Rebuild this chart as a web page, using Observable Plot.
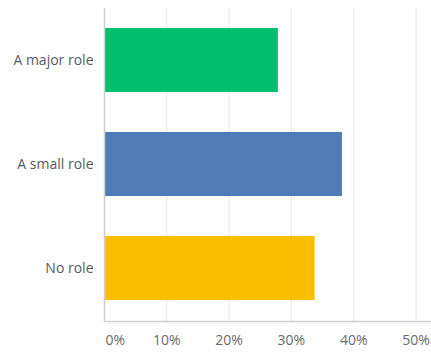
<!DOCTYPE html>
<html>
<head>
<meta charset="utf-8">
<script src="https://cdn.jsdelivr.net/npm/d3@7"></script>
<script src="https://cdn.jsdelivr.net/npm/@observablehq/plot@0.6"></script>
<style>
  html, body { margin: 0; padding: 0; background: #fff; }
  #chart svg { display: block; }
</style>
</head>
<body>
<div id="chart"></div>
<script>
const categories = ["A major role", "A small role", "No role"];
const values = [27.9, 38.2, 33.8];
const colors = ["#00BF6F", "#507CB6", "#F9BE00"];
const xTicks = [0, 10, 20, 30, 40, 50];

const data = categories.map((c, i) => ({category: c, value: values[i], color: colors[i]}));

const chart = Plot.plot({
  width: 431,
  height: 352,
  marginLeft: 104,
  marginRight: 0,
  marginTop: 8,
  marginBottom: 31,
  style: {fontFamily: "'Open Sans', sans-serif", fontSize: "14px", color: "#6b6b6b", background: "#fff"},
  x: {domain: [0, 50], range: [104, 415.5], axis: null},
  y: {domain: categories, paddingInner: 0.38, paddingOuter: 0.19, axis: null},
  marks: [
    Plot.gridX(xTicks.filter(d => d > 0), {stroke: "#e6e6e6", strokeOpacity: 1, strokeWidth: 1}),
    Plot.barX(data, {y: "category", x: "value", fill: "color"}),
    Plot.ruleX([0], {stroke: "#d0d0d0", strokeWidth: 1.5}),
    Plot.frame({anchor: "bottom", stroke: "#d0d0d0", strokeWidth: 1.5}),
    Plot.axisY({tickSize: 0, tickPadding: 11, fontSize: 14, fill: "#585c60", label: null}),
    Plot.text(xTicks.filter(d => d === 0), {x: d => d, text: d => d + "%", frameAnchor: "bottom", dy: 23, dx: 1, textAnchor: "start", fill: "#6b6b6b", fontSize: 14}),
    Plot.text(xTicks.filter(d => d > 0), {x: d => d, text: d => d + "%", frameAnchor: "bottom", dy: 23, textAnchor: "middle", fill: "#6b6b6b", fontSize: 14})
  ]
});
document.getElementById("chart").appendChild(chart);
</script>
</body>
</html>
